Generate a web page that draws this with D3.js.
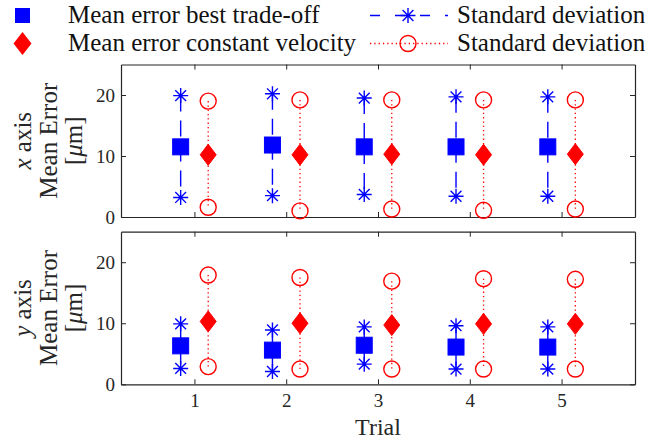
<!DOCTYPE html>
<html>
<head>
<meta charset="utf-8">
<script src="https://cdn.jsdelivr.net/npm/d3@7"></script>
<style>
  body { margin: 0; background: #fff; }
  svg { display: block; }
  text { font-family: "Liberation Serif", "Times New Roman", serif; }
</style>
</head>
<body>
<div id="chart"></div>
<script>
var trials = [1, 2, 3, 4, 5];
var yTicks = [0, 10, 20];

// x axis panel
var xBestMean = [11.5, 11.8, 11.5, 11.5, 11.5];
var xBestLow = [3.2, 3.5, 3.7, 3.4, 3.4];
var xBestHigh = [19.9, 20.2, 19.5, 19.7, 19.7];
var xConstMean = [10.2, 10.2, 10.3, 10.2, 10.3];
var xConstLow = [1.6, 1.0, 1.3, 1.1, 1.3];
var xConstHigh = [19.0, 19.2, 19.2, 19.2, 19.2];

// y axis panel
var yBestMean = [6.3, 5.6, 6.4, 6.1, 6.1];
var yBestLow = [2.6, 2.1, 3.3, 2.5, 2.5];
var yBestHigh = [9.9, 8.9, 9.4, 9.6, 9.4];
var yConstMean = [10.3, 10.0, 9.7, 9.9, 9.9];
var yConstLow = [2.9, 2.5, 2.5, 2.5, 2.5];
var yConstHigh = [17.9, 17.5, 16.9, 17.3, 17.2];

var legendLabels = ["Mean error best trade-off", "Mean error constant velocity", "Standard deviation", "Standard deviation"];

var width = 646, height = 441;
var left = 121, right = 635;
var axisColor = "#262626";
var blue = "#0000ff", red = "#ff0000";

var svg = d3.select("#chart").append("svg")
  .attr("width", width)
  .attr("height", height);

var x = d3.scaleLinear().domain([0.2, 5.8]).range([left, right]);

function starPath(s) {
  var d = s * 0.72;
  return "M" + (-s) + ",0L" + s + ",0M0," + (-s) + "L0," + s +
    "M" + (-d) + "," + (-d) + "L" + d + "," + d +
    "M" + (-d) + "," + d + "L" + d + "," + (-d);
}
function diamondPath(w, h) {
  return "M0," + (-h) + "L" + w + ",0L0," + h + "L" + (-w) + ",0Z";
}

function panel(top, bottom, bestMean, bestLow, bestHigh, constMean, constLow, constHigh, axisName, showLabels) {
  var y = d3.scaleLinear().domain([0, 25]).range([bottom, top]);
  var g = svg.append("g");

  // box + inward ticks
  var bAxis = d3.axisBottom(x).tickValues(trials).tickSizeInner(-5).tickSizeOuter(0).tickPadding(9)
    .tickFormat(d3.format("d"));
  if (!showLabels) bAxis.tickFormat("");
  var gb = g.append("g").attr("transform", "translate(0," + bottom + ")").call(bAxis);
  var gt = g.append("g").attr("transform", "translate(0," + top + ")")
    .call(d3.axisTop(x).tickValues(trials).tickSizeInner(-5).tickSizeOuter(0).tickFormat(""));
  var gl = g.append("g").attr("transform", "translate(" + left + ",0)")
    .call(d3.axisLeft(y).tickValues(yTicks).tickSizeInner(-5).tickSizeOuter(0).tickPadding(6));
  var gr = g.append("g").attr("transform", "translate(" + right + ",0)")
    .call(d3.axisRight(y).tickValues(yTicks).tickSizeInner(-5).tickSizeOuter(0).tickFormat(""));
  [gb, gt, gl, gr].forEach(function(a) {
    a.select(".domain").attr("stroke", axisColor).attr("stroke-width", 1.2);
    a.selectAll(".tick line").attr("stroke", axisColor).attr("stroke-width", 1);
    a.selectAll(".tick text").attr("fill", axisColor)
      .style("font-family", "'Liberation Serif', serif").style("font-size", "19px");
  });

  // y label (three lines)
  var cy = (top + bottom) / 2;
  var lab = g.append("text")
    .attr("transform", "translate(0," + cy + ") rotate(-90)")
    .attr("text-anchor", "middle")
    .attr("fill", axisColor)
    .style("font-size", "25px");
  var l1 = lab.append("tspan").attr("x", 0).attr("y", 31);
  l1.append("tspan").style("font-style", "italic").text(axisName);
  l1.append("tspan").text(" axis");
  lab.append("tspan").attr("x", 0).attr("y", 57).text("Mean Error");
  var l3 = lab.append("tspan").attr("x", 0).attr("y", 82);
  l3.append("tspan").text("[");
  l3.append("tspan").style("font-style", "italic").text("\u03bc");
  l3.append("tspan").text("m]");

  var data = trials.map(function(t, i) {
    return { t: t, bm: bestMean[i], bl: bestLow[i], bh: bestHigh[i],
             cm: constMean[i], cl: constLow[i], ch: constHigh[i] };
  });

  // std lines
  g.selectAll(".bline").data(data).enter().append("line")
    .attr("x1", function(d) { return x(d.t - 0.15); })
    .attr("x2", function(d) { return x(d.t - 0.15); })
    .attr("y1", function(d) { return y(d.bh); })
    .attr("y2", function(d) { return y(d.bl); })
    .attr("stroke", blue).attr("stroke-width", 1.4)
    .attr("stroke-dasharray", "16,9");
  g.selectAll(".rline").data(data).enter().append("line")
    .attr("x1", function(d) { return x(d.t + 0.15); })
    .attr("x2", function(d) { return x(d.t + 0.15); })
    .attr("y1", function(d) { return y(d.ch); })
    .attr("y2", function(d) { return y(d.cl); })
    .attr("stroke", red).attr("stroke-width", 1.3)
    .attr("stroke-dasharray", "1.3,3");

  // std markers
  data.forEach(function(d) {
    [d.bh, d.bl].forEach(function(v) {
      g.append("path")
        .attr("transform", "translate(" + x(d.t - 0.15) + "," + y(v) + ")")
        .attr("d", starPath(7.5))
        .attr("stroke", blue).attr("stroke-width", 1.4).attr("fill", "none");
    });
    [d.ch, d.cl].forEach(function(v) {
      g.append("circle")
        .attr("cx", x(d.t + 0.15)).attr("cy", y(v)).attr("r", 8)
        .attr("stroke", red).attr("stroke-width", 1.4).attr("fill", "none");
    });
  });

  // means
  g.selectAll(".sq").data(data).enter().append("rect")
    .attr("x", function(d) { return x(d.t - 0.15) - 8; })
    .attr("y", function(d) { return y(d.bm) - 8; })
    .attr("width", 16).attr("height", 16)
    .attr("fill", blue).attr("stroke", blue).attr("stroke-width", 1);
  g.selectAll(".dm").data(data).enter().append("path")
    .attr("transform", function(d) { return "translate(" + x(d.t + 0.15) + "," + y(d.cm) + ")"; })
    .attr("d", diamondPath(8, 10.5))
    .attr("fill", red).attr("stroke", red).attr("stroke-width", 1);
}

panel(64.5, 217, xBestMean, xBestLow, xBestHigh, xConstMean, xConstLow, xConstHigh, "x", false);
panel(231.7, 384.3, yBestMean, yBestLow, yBestHigh, yConstMean, yConstLow, yConstHigh, "y", true);

// x label
svg.append("text")
  .attr("x", (left + right) / 2).attr("y", 435)
  .attr("text-anchor", "middle").attr("fill", axisColor)
  .style("font-size", "24px")
  .text("Trial");

// legend
var lg = svg.append("g");
var rows = [15.5, 43.5];
lg.append("rect").attr("x", 15).attr("y", rows[0] - 7.5).attr("width", 15).attr("height", 15)
  .attr("fill", blue);
lg.append("path").attr("transform", "translate(22.5," + rows[1] + ")")
  .attr("d", diamondPath(9, 11.5)).attr("fill", red);
lg.append("line").attr("x1", 370).attr("x2", 448).attr("y1", rows[0]).attr("y2", rows[0])
  .attr("stroke", blue).attr("stroke-width", 1.4).attr("stroke-dasharray", "10,15");
lg.append("path").attr("transform", "translate(408," + rows[0] + ")")
  .attr("d", starPath(7.5)).attr("stroke", blue).attr("stroke-width", 1.4).attr("fill", "none");
lg.append("line").attr("x1", 370).attr("x2", 448).attr("y1", rows[1]).attr("y2", rows[1])
  .attr("stroke", red).attr("stroke-width", 1.3).attr("stroke-dasharray", "1.3,3");
lg.append("circle").attr("cx", 408).attr("cy", rows[1]).attr("r", 8)
  .attr("stroke", red).attr("stroke-width", 1.4).attr("fill", "none");

var textX = [68, 68, 457, 457];
var textY = [rows[0] + 7, rows[1] + 7, rows[0] + 7, rows[1] + 7];
lg.selectAll(".lt").data(legendLabels).enter().append("text")
  .attr("x", function(d, i) { return textX[i]; })
  .attr("y", function(d, i) { return textY[i]; })
  .attr("fill", "#111")
  .style("font-size", "25px")
  .text(function(d) { return d; });
</script>
</body>
</html>
